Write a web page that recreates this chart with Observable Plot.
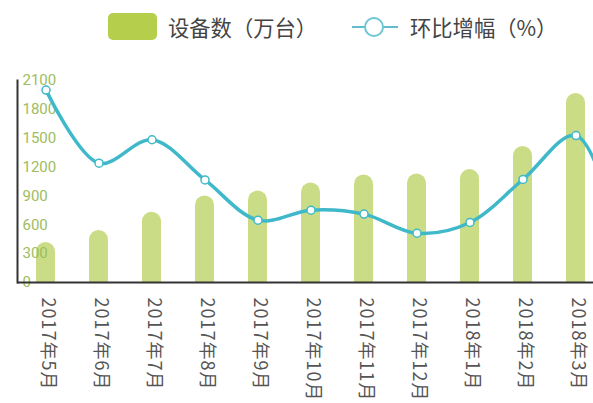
<!DOCTYPE html>
<html>
<head>
<meta charset="utf-8">
<script src="https://cdn.jsdelivr.net/npm/d3@7"></script>
<script src="https://cdn.jsdelivr.net/npm/@observablehq/plot@0.6"></script>
<style>
  html, body { margin: 0; padding: 0; background: #fff; overflow: hidden; width: 593px; height: 403px; }
  #legend { position: relative; height: 58px; font-family: "Noto Sans CJK SC", sans-serif; color: #444; }
  #legend .txt { position: absolute; top: 16px; font-size: 21.3px; line-height: 22px; white-space: nowrap; }
  svg { display: block; }
</style>
</head>
<body>
<div id="legend">
  <div style="position:absolute;left:108px;top:13px;width:49px;height:27px;border-radius:5px;background:#b5cf4c"></div>
  <span class="txt" style="left:168px">设备数（万台）</span>
  <svg style="position:absolute;left:350px;top:15px" width="50" height="24">
    <line x1="2" x2="48" y1="12" y2="12" stroke="#62bccd" stroke-width="2"></line>
    <circle cx="24" cy="12" r="9" fill="#fff" stroke="#6cc6d4" stroke-width="2"></circle>
  </svg>
  <span class="txt" style="left:410px">环比增幅（%）</span>
</div>
<div id="chart"></div>
<script>
// categories (x-axis labels as shown)
const months = ["2017年5月","2017年6月","2017年7月","2017年8月","2017年9月","2017年10月","2017年11月","2017年12月","2018年1月","2018年2月","2018年3月"];
// the next month is cut off at the right edge of the picture (only the line's descent is visible)
const cutMonth = "2018年4月";
// 设备数（万台）
const devices = [416, 540, 731, 899, 951, 1034, 1118, 1128, 1175, 1414, 1965];
// 环比增幅（%） read on the same left axis
const growth = [2000, 1240, 1484, 1066, 648, 752, 711, 512, 624, 1071, 1528];
const growthCut = 100;
// y tick labels
const yTicks = [0, 300, 600, 900, 1200, 1500, 1800, 2100];

const data = months.map((m, i) => ({month: m, devices: devices[i], growth: growth[i]}));
data.push({month: cutMonth, devices: null, growth: growthCut});

const chart = Plot.plot({
  width: 656,
  height: 345,
  marginLeft: 17,
  marginRight: 0,
  marginTop: 22,
  marginBottom: 121,
  style: {maxWidth: "none", background: "transparent", overflow: "visible"},
  x: {type: "band", domain: data.map(d => d.month), paddingInner: 0.645, paddingOuter: 0.29, label: null},
  y: {domain: [0, 2100], label: null},
  marks: [
    Plot.barY(data.filter(d => d.devices != null), {x: "month", y: "devices", fill: "#cadd86", ry1: 9.5}),
    Plot.axisY(yTicks, {anchor: "left", tickSize: 0, tickPadding: 0, dx: 5, textAnchor: "start", label: null,
      tickFormat: d => String(d), fill: "#9dbd5e", fontSize: 15, fontFamily: "Roboto, sans-serif"}),
    Plot.axisX(months, {anchor: "bottom", tickSize: 0, tickPadding: 15, rotate: 90, textAnchor: "start", label: null,
      lineAnchor: "middle", dx: 2, fontSize: 18, fill: "#555", fontFamily: "Noto Sans CJK SC, sans-serif"}),
    Plot.line(data, {x: "month", y: "growth", curve: "catmull-rom", stroke: "#3fb9c9", strokeWidth: 3.5}),
    Plot.dot(data, {x: "month", y: "growth", r: 4, fill: "#fff", stroke: "#3fb9c9", strokeWidth: 1.5}),
    Plot.frame({anchor: "left", stroke: "#333", strokeWidth: 2}),
    Plot.ruleY([0], {stroke: "#333", strokeWidth: 2})
  ]
});
d3.select(chart).selectAll('g[aria-label="x-axis tick label"]').style("letter-spacing", "1px");
document.getElementById("chart").appendChild(chart);
</script>
</body>
</html>
